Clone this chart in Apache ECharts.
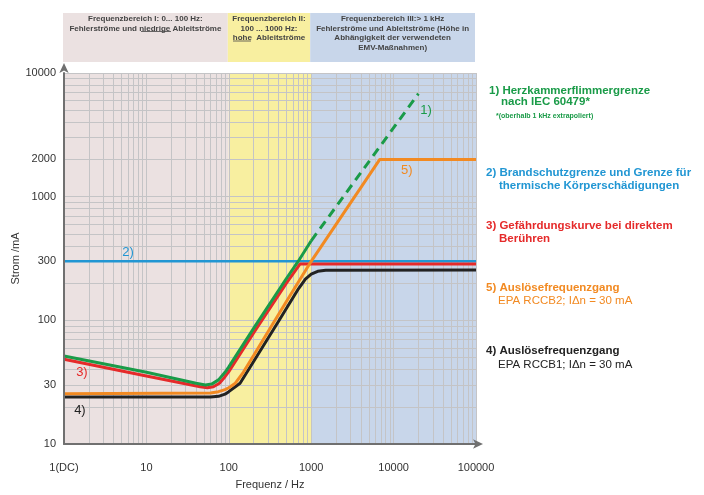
<!DOCTYPE html>
<html><head><meta charset="utf-8">
<script src="https://cdn.jsdelivr.net/npm/echarts@6/dist/echarts.min.js"></script>
<style>html,body{margin:0;padding:0;background:#fff}#c{width:704px;height:495px}</style>
</head><body><div id="c"></div>
<script>
// ---- data ----
const xTicks = [1, 10, 100, 1000, 10000, 100000];
const yTicks = [10, 30, 100, 300, 1000, 2000, 10000];
const gridMantissas = [1, 2, 3, 4, 5, 6, 7, 8, 9];
const xDecades = [1, 10, 100, 1000, 10000];
const yDecades = [10, 100, 1000];

const bandEdges = [1, 100, 1000, 100000];
const bandTexts = [
  'Frequenzbereich I: 0... 100 Hz:\nFehlerströme und niedrige Ableitströme',
  'Frequenzbereich II:\n100 ... 1000 Hz:\nhohe  Ableitströme',
  'Frequenzbereich III:> 1 kHz\nFehlerströme und Ableitströme (Höhe in\nAbhängigkeit der verwendeten\nEMV-Maßnahmen)'
];

const greenFreq = [1, 10, 40, 52, 62, 75, 90, 100, 200, 500, 691, 1000];
const greenVal  = [51.5, 38, 31, 30, 30.5, 33, 38, 42, 86, 218, 298, 440];
const greenDashFreq = [1000, 20000];
const greenDashVal  = [440, 6800];

const redFreq = [1, 10, 45, 55, 65, 77, 90, 100, 200, 500, 730, 100000];
const redVal  = [48.5, 35.5, 29, 28.5, 29, 31, 35, 38.5, 79, 200, 285, 285];

const blueFreq = [1, 100000];
const blueVal  = [300, 300];

const orangeFreq = [1, 60, 75, 90, 100, 120, 150, 200, 500, 1000, 6800, 100000];
const orangeVal  = [25.5, 25.8, 26.5, 27.5, 28.5, 31, 38, 52, 142, 300, 2000, 2000];

const blackFreq = [1, 60, 75, 90, 100, 120, 137, 200, 400, 700, 850, 1000, 1200, 1500, 100000];
const blackVal  = [24, 24, 24.3, 25.3, 26.5, 29, 31, 46.5, 98, 180, 215, 236, 249, 254, 255];

const curveLabels = [
  {text: '1)', f: 24700, v: 5000, color: '#1a9b48'},
  {text: '5)', f: 14500, v: 1640, color: '#f28a22'},
  {text: '2)', f: 6, v: 355, color: '#2196d3'},
  {text: '3)', f: 1.65, v: 38, color: '#e52a2a'},
  {text: '4)', f: 1.56, v: 18.8, color: '#222222'}
];

// ---- build ----
const pairs = (xs, ys) => xs.map((x, i) => [x, ys[i]]);
const xGrid = [], yGrid = [];
xDecades.forEach(d => gridMantissas.forEach(m => xGrid.push(d * m)));
xGrid.push(100000);
yDecades.forEach(d => gridMantissas.forEach(m => yGrid.push(d * m)));
yGrid.push(10000);

const bandColors = ['#ebe1e1', '#f8efa0', '#c8d6ea'];
const bandAreas = (withLabel) => bandColors.map((c, i) => [
  {xAxis: bandEdges[i], name: withLabel ? bandTexts[i] : '', itemStyle: {color: c}},
  {xAxis: bandEdges[i + 1]}
]);

const FONT = '"Liberation Sans", Arial, Helvetica, sans-serif';
const lineSeries = (name, data, color, extra) => Object.assign({
  type: 'line', name, data, showSymbol: false, symbol: 'none', smooth: false,
  lineStyle: {color, width: 3}, itemStyle: {color}, z: 5, silent: true, animation: false
}, extra || {});

const chart = echarts.init(document.getElementById('c'), null, {renderer: 'canvas'});
const option = {
  animation: false,
  textStyle: {fontFamily: FONT},
  grid: [
    {left: 64, right: 228, top: 73, bottom: 51, outerBoundsMode: 'none', containLabel: false},
    {left: 63, right: 229, top: 13, height: 49, outerBoundsMode: 'none', containLabel: false}
  ],
  xAxis: [
    {type: 'log', logBase: 10, min: 1, max: 100000, gridIndex: 0, z: 10,
     name: 'Frequenz / Hz', nameLocation: 'middle', nameGap: 35, nameMoveOverlap: false,
     nameTextStyle: {color: '#333', fontSize: 11, fontFamily: FONT},
     axisLine: {lineStyle: {color: '#707070', width: 2}, symbol: ['none', 'arrow'], symbolSize: [7, 10], symbolOffset: [0, 7]},
     axisTick: {show: false}, splitLine: {show: false},
     axisLabel: {customValues: xTicks, margin: 18, color: '#333', fontSize: 11, fontFamily: FONT,
       formatter: v => (v === 1 ? '1(DC)' : String(v))}},
    {type: 'log', logBase: 10, min: 1, max: 100000, gridIndex: 1, show: false}
  ],
  yAxis: [
    {type: 'log', logBase: 10, min: 10, max: 10000, gridIndex: 0, z: 10,
     name: 'Strom /mA', nameLocation: 'middle', nameGap: 43, nameMoveOverlap: false,
     nameTextStyle: {color: '#333', fontSize: 11, fontFamily: FONT},
     axisLine: {lineStyle: {color: '#707070', width: 2}, symbol: ['none', 'arrow'], symbolSize: [7, 10], symbolOffset: [0, 10]},
     axisTick: {show: false}, splitLine: {show: false},
     axisLabel: {customValues: yTicks, margin: 8, color: '#333', fontSize: 11, fontFamily: FONT,
       formatter: v => String(Math.round(v))}},
    {type: 'value', min: 0, max: 1, gridIndex: 1, show: false}
  ],
  series: [
    {type: 'line', data: [], xAxisIndex: 1, yAxisIndex: 1, z: 1, silent: true,
     markArea: {silent: true, data: bandAreas(true),
       label: {show: true, position: 'insideTop', distance: 1, formatter: '{b}', color: '#444444',
         fontSize: 8, fontWeight: 'bold', lineHeight: 9.7, fontFamily: FONT, align: 'center'}}},
    {type: 'line', data: [], z: 1, silent: true,
     markArea: {silent: true, data: bandAreas(false), label: {show: false}}},
    {type: 'line', data: [], z: 2, silent: true,
     markLine: {silent: true, symbol: ['none', 'none'], label: {show: false},
       lineStyle: {color: '#c4c4c6', width: 1, type: 'solid'},
       data: xGrid.map(v => ({xAxis: v})).concat(yGrid.map(v => ({yAxis: v})))}},
    lineSeries('2', pairs(blueFreq, blueVal), '#2196d3', {lineStyle: {color: '#2196d3', width: 2.5}}),
    lineSeries('3', pairs(redFreq, redVal), '#e52a2a'),
    lineSeries('1', pairs(greenFreq, greenVal), '#1a9b48'),
    lineSeries('1d', pairs(greenDashFreq, greenDashVal), '#1a9b48', {lineStyle: {color: '#1a9b48', width: 3, type: [9, 6]}}),
    lineSeries('4', pairs(blackFreq, blackVal), '#222222'),
    lineSeries('5', pairs(orangeFreq, orangeVal), '#f28a22'),
    {type: 'line', data: [], z: 6, silent: true,
     markPoint: {silent: true, symbol: 'circle', symbolSize: 0,
       data: curveLabels.map(l => ({coord: [l.f, l.v], value: l.text,
         label: {show: true, position: 'inside', formatter: l.text, color: l.color, fontSize: 13, fontFamily: FONT}}))}}
  ],
  graphic: [
    {type: 'line', shape: {x1: 141, y1: 31.5, x2: 171, y2: 31.5}, style: {stroke: '#444444', lineWidth: 0.8}, z: 20},
    {type: 'line', shape: {x1: 233, y1: 41, x2: 251, y2: 41}, style: {stroke: '#444444', lineWidth: 0.8}, z: 20},
    ...[
      ['1) Herzkammerflimmergrenze', 489, 92, '#1a9b48', 'bold', 11.5],
      ['nach IEC 60479*', 501, 103, '#1a9b48', 'bold', 11.5],
      ['*(oberhalb 1 kHz extrapoliert)', 496, 117, '#1a9b48', 'bold', 7],
      ['2) Brandschutzgrenze und Grenze für', 486, 174, '#2196d3', 'bold', 11.5],
      ['thermische Körperschädigungen', 499, 187, '#2196d3', 'bold', 11.5],
      ['3) Gefährdungskurve bei direktem', 486, 227, '#e52a2a', 'bold', 11.5],
      ['Berühren', 499, 240, '#e52a2a', 'bold', 11.5],
      ['5) Auslösefrequenzgang', 486, 289, '#f28a22', 'bold', 11.5],
      ['EPA RCCB2; IΔn = 30 mA', 498, 302, '#f28a22', 'normal', 11.5],
      ['4) Auslösefrequenzgang', 486, 352, '#222222', 'bold', 11.5],
      ['EPA RCCB1; IΔn = 30 mA', 498, 366, '#222222', 'normal', 11.5]
    ].map(([t, x, y, c, w, s]) => ({
      type: 'text', left: x, top: y - s * 0.6, z: 20,
      style: {text: t, fill: c, font: w + ' ' + s + 'px ' + FONT}
    }))
  ]
};
chart.setOption(option);
</script>
</body></html>
